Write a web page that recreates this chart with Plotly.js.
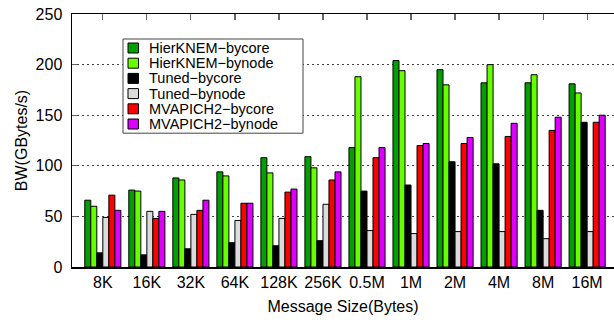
<!DOCTYPE html>
<html>
<head>
<meta charset="utf-8">
<script src="https://cdn.plot.ly/plotly-3.0.1.min.js"></script>
<style>html,body{margin:0;padding:0;background:#fff;}#chart{width:614px;height:320px;}</style>
</head>
<body>
<div id="chart"></div>
<script>
const categories = ['8K','16K','32K','64K','128K','256K','0.5M','1M','2M','4M','8M','16M'];
const hierKnemBycore = [66, 76, 88, 94, 108, 109, 118, 204, 195, 182, 182, 181];
const hierKnemBynode = [60, 75, 86, 90, 93, 98, 188, 194, 180, 200, 190, 172];
const tunedBycore    = [14, 12, 18, 24, 21, 26, 75, 81, 104, 102, 56, 143];
const tunedBynode    = [49, 55, 52, 46, 48, 62, 36, 33, 35, 35, 28, 35];
const mvapichBycore  = [71, 48, 56, 63, 74, 86, 108, 120, 122, 129, 135, 143];
const mvapichBynode  = [56, 55, 66, 63, 77, 94, 118, 122, 128, 142, 148, 150];
const seriesNames = ['HierKNEM\u2212bycore','HierKNEM\u2212bynode','Tuned\u2212bycore','Tuned\u2212bynode','MVAPICH2\u2212bycore','MVAPICH2\u2212bynode'];
const seriesColors = ['#00a000','#66ff00','#000000','#dcdcdc','#ff0000','#dd00ff'];
const seriesValues = [hierKnemBycore, hierKnemBynode, tunedBycore, tunedBynode, mvapichBycore, mvapichBynode];
const yTicks = [0, 50, 100, 150, 200, 250];

const FONT = 'Liberation Sans, Arial, Helvetica, sans-serif';

const traces = seriesValues.map((vals, i) => ({
  type: 'bar',
  name: seriesNames[i],
  x: categories,
  y: vals,
  marker: {color: seriesColors[i], line: {color: '#000', width: 1}},
  showlegend: false,
  hoverinfo: 'x+y+name'
}));

// plot area geometry in px (for the hand-drawn legend box)
const W = 614, H = 320, mL = 72, mR = 0, mT = 14, mB = 53;
const pw = W - mL - mR, ph = H - mT - mB;
const px = v => (v - mL) / pw;
const py = v => (H - mB - v) / ph;

const ROW = 15.2;
const shapes = [];
const annotations = [];
// legend frame
shapes.push({type:'rect', xref:'paper', yref:'paper', x0:px(123), x1:px(303), y0:py(42 + 6*ROW), y1:py(39),
  line:{color:'#444', width:1}, fillcolor:'rgba(255,255,255,1)', layer:'above'});
seriesNames.forEach((n, i) => {
  const top = 43 + i * ROW;
  shapes.push({type:'rect', xref:'paper', yref:'paper', x0:px(128), x1:px(138.5), y0:py(top+10), y1:py(top),
    fillcolor: seriesColors[i], line:{color:'#000', width:1}, layer:'above'});
  annotations.push({xref:'paper', yref:'paper', x:px(148), y:py(top+5), xanchor:'left', yanchor:'middle',
    text:n, showarrow:false, borderpad:0, font:{family:FONT, size:14.5, color:'#000'}});
});

const layout = {
  width: W, height: H,
  margin: {l: mL, r: mR, t: mT, b: mB, pad: 0},
  paper_bgcolor: '#fff', plot_bgcolor: '#fff',
  font: {family: FONT, size: 16, color: '#000'},
  barmode: 'group', bargap: 0.18, bargroupgap: 0,
  showlegend: false,
  xaxis: {
    type: 'category', range: [-0.70, 11.61],
    showline: true, linecolor: '#000', linewidth: 1.5, mirror: true,
    ticks: '', showgrid: false, zeroline: false,
    tickfont: {family: FONT, size: 16, color: '#000'},
    ticklabelstandoff: 0,
    title: {text: 'Message Size(Bytes)', font: {family: FONT, size: 16, color: '#000'}, standoff: 11},
    automargin: false
  },
  xaxis2: {
    type: 'linear', overlaying: 'x', side: 'top', range: [-0.70, 11.61],
    tickmode: 'array', tickvals: categories.map((c, i) => i),
    ticks: 'inside', ticklen: 6, tickwidth: 1.2, tickcolor: '#666',
    showticklabels: false, showgrid: false, zeroline: false, showline: false
  },
  yaxis: {
    range: [0, 250], tickmode: 'array', tickvals: yTicks,
    ticks: 'inside', ticklen: 5, tickwidth: 1.2, tickcolor: '#666',
    showline: true, linecolor: '#000', linewidth: 1.5,
    showgrid: true, gridcolor: '#444', gridwidth: 1, griddash: '1.5px,3.5px',
    zeroline: false,
    tickfont: {family: FONT, size: 16, color: '#000'},
    ticklabelstandoff: 5,
    title: {text: 'BW(GBytes/s)', font: {family: FONT, size: 16, color: '#000'}, standoff: 4},
    automargin: false
  },
  shapes: shapes,
  annotations: annotations
};

// invisible point that anchors the top (tick-only) axis
traces.push({type:'scatter', x:[0], y:[0], xaxis:'x2', yaxis:'y', mode:'markers', marker:{opacity:0}, showlegend:false, hoverinfo:'skip'});

Plotly.newPlot('chart', traces, layout, {staticPlot: true});
</script>
</body>
</html>
